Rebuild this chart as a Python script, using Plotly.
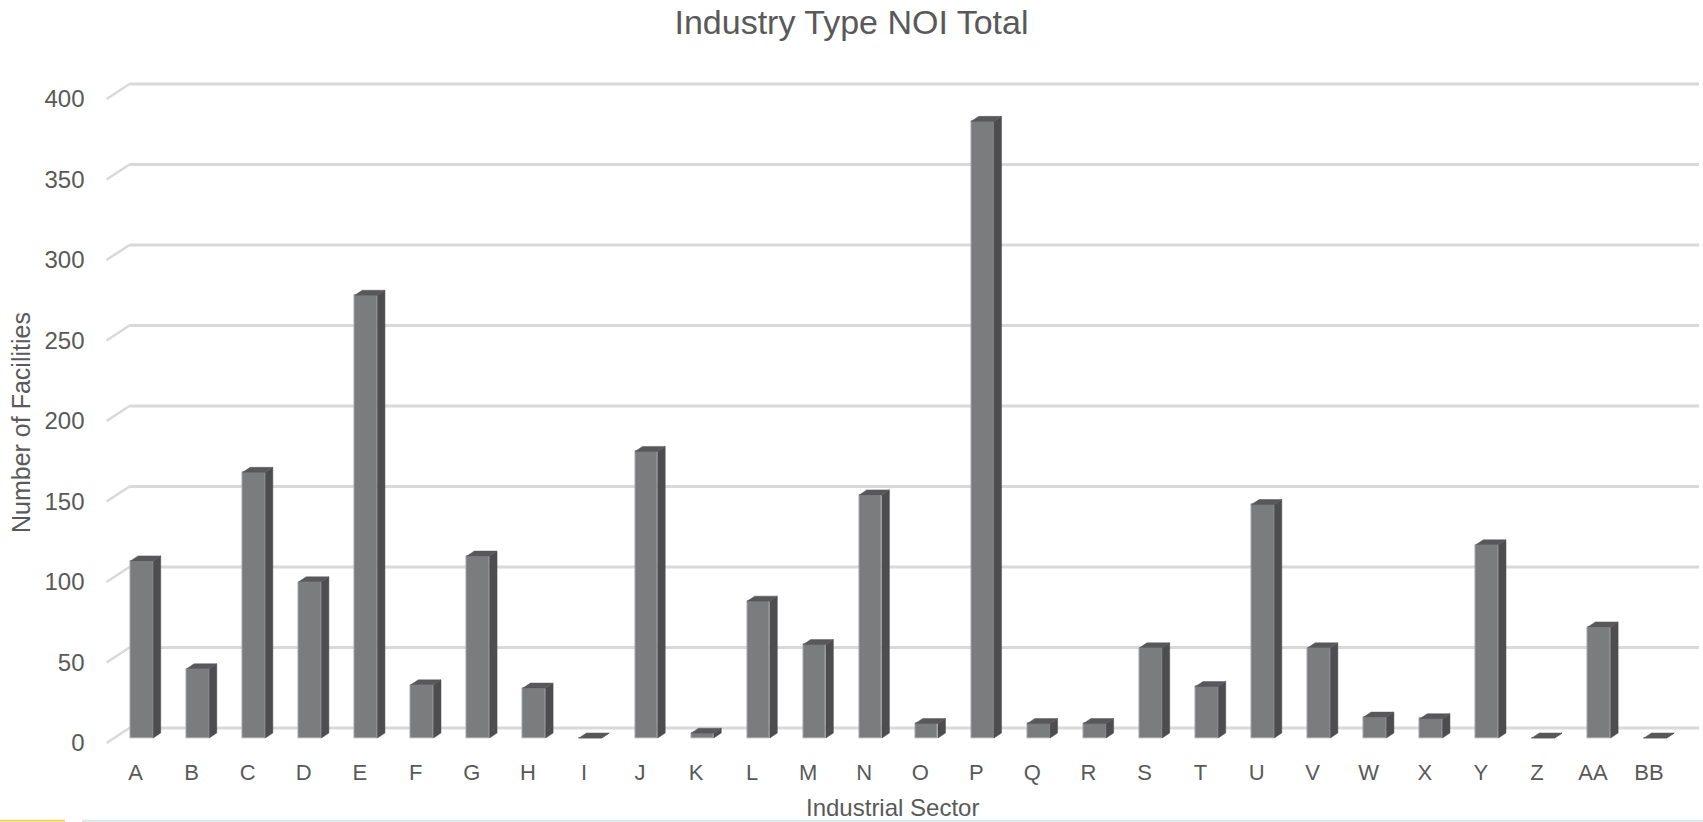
import plotly.graph_objects as go

# ---------------- data ----------------
categories = ["A", "B", "C", "D", "E", "F", "G", "H", "I", "J", "K", "L", "M", "N",
              "O", "P", "Q", "R", "S", "T", "U", "V", "W", "X", "Y", "Z", "AA", "BB"]
facilities = [110, 43, 165, 97, 275, 33, 113, 31, 0, 178, 3, 85, 58, 151,
              9, 383, 9, 9, 56, 32, 145, 56, 13, 12, 120, 0, 69, 0]
y_ticks = [0, 50, 100, 150, 200, 250, 300, 350, 400]

# ---------------- geometry (pixels) ----------------
W, H = 1703, 822
FRONT_LEFT, FRONT_RIGHT = 107.5, 1677.0
ZERO_PX = 738.0           # bar-front baseline
PX_PER_UNIT = 1.61
Y_LO, Y_HI = -6, 416      # a little room so the wall lines are not clipped
DEPTH_DX, BACK_DY, FLOOR_FRONT_DY = 22, 10, 5
BAR_DX, BAR_DY = 7.5, 5.0
BAR_OFF_PX, BAR_W_PX = -5.0, 22.7

n = len(categories)
px_per_cat = (FRONT_RIGHT - FRONT_LEFT) / n
xdom = [FRONT_LEFT / W, FRONT_RIGHT / W]
bottom_px = ZERO_PX - Y_LO * PX_PER_UNIT
top_px = ZERO_PX - Y_HI * PX_PER_UNIT
ydom = [(H - bottom_px) / H, (H - top_px) / H]

FRONT_C = "#7b7c7e"
SIDE_C = "#4d4d4f"
TOP_C = "#58585a"
GRID_C = "#d9d9d9"
TEXT_C = "#595959"
FONT = "Liberation Sans, Arial, sans-serif"

idx = list(range(n))
off = BAR_OFF_PX / px_per_cat
wid = BAR_W_PX / px_per_cat
dxu = BAR_DX / px_per_cat
dyu = BAR_DY / PX_PER_UNIT

fig = go.Figure()
fig.add_trace(go.Bar(
    x=idx, y=facilities, width=wid, offset=off,
    marker=dict(color=FRONT_C, line=dict(color="#a2a2a2", width=1)),
    hoverinfo="skip", showlegend=False))

side_x, side_y, top_x, top_y = [], [], [], []
for i, v in zip(idx, facilities):
    xl = i + off
    xr = xl + wid
    side_x += [xr, xr + dxu, xr + dxu, xr, xr, None]
    side_y += [0, dyu, v + dyu, v, 0, None]
    top_x += [xl, xr, xr + dxu, xl + dxu, xl, None]
    top_y += [v, v, v + dyu, v + dyu, v, None]

fig.add_trace(go.Scatter(x=side_x, y=side_y, mode="lines", fill="toself",
                         fillcolor=SIDE_C, line=dict(color=SIDE_C, width=0.5),
                         hoverinfo="skip", showlegend=False))
fig.add_trace(go.Scatter(x=top_x, y=top_y, mode="lines", fill="toself",
                         fillcolor=TOP_C, line=dict(color=TOP_C, width=0.5),
                         hoverinfo="skip", showlegend=False))

shapes = []
for t in y_ticks:
    # back-wall gridline
    shapes.append(dict(type="line", layer="below", xref="paper",
                       x0=(FRONT_LEFT + DEPTH_DX) / W, x1=min(1.0, (FRONT_RIGHT + DEPTH_DX) / W),
                       yref="y", ysizemode="pixel", yanchor=t, y0=BACK_DY, y1=BACK_DY,
                       line=dict(color=GRID_C, width=3)))
    # side-wall diagonal
    shapes.append(dict(type="line", layer="below", xref="paper", xsizemode="pixel",
                       xanchor=FRONT_LEFT / W, x0=-1, x1=DEPTH_DX,
                       yref="y", ysizemode="pixel", yanchor=t,
                       y0=-FLOOR_FRONT_DY, y1=BACK_DY,
                       line=dict(color=GRID_C, width=2.5)))
# thin strip at the bottom of the page
shapes.append(dict(type="line", xref="paper", yref="paper", x0=0, x1=65 / W,
                   y0=1.2 / H, y1=1.2 / H, line=dict(color="#f3d55b", width=2)))
shapes.append(dict(type="line", xref="paper", yref="paper", x0=82 / W, x1=1,
                   y0=1.2 / H, y1=1.2 / H, line=dict(color="#d8e7ea", width=2)))

fig.update_layout(
    width=W, height=H, autosize=False,
    margin=dict(l=0, r=0, t=0, b=0, pad=0, autoexpand=False),
    paper_bgcolor="white", plot_bgcolor="rgba(0,0,0,0)",
    font=dict(family=FONT, color=TEXT_C),
    bargap=0,
    title=dict(text="Industry Type NOI Total", x=0.5, xanchor="center",
               xref="paper", yref="paper", y=1 - 22 / H, yanchor="middle",
               font=dict(size=34, color=TEXT_C, family=FONT)),
    xaxis=dict(domain=xdom, range=[-0.5, n - 0.5], tickmode="array",
               tickvals=idx, ticktext=categories, showgrid=False, zeroline=False,
               showline=False, ticks="", ticklabelstandoff=9, automargin=False,
               tickfont=dict(size=22, color=TEXT_C), fixedrange=True),
    yaxis=dict(domain=ydom, range=[Y_LO, Y_HI], tickmode="array", tickvals=y_ticks,
               showgrid=False, zeroline=False, showline=False, ticks="",
               ticklabelshift=FLOOR_FRONT_DY, ticklabelstandoff=22, automargin=False,
               tickfont=dict(size=24, color=TEXT_C), fixedrange=True),
    shapes=shapes,
    annotations=[
        dict(text="Industrial Sector", xref="paper", yref="paper",
             x=(FRONT_LEFT + FRONT_RIGHT) / 2 / W, y=1 - 807 / H,
             xanchor="center", yanchor="middle", showarrow=False,
             font=dict(size=24, color=TEXT_C, family=FONT)),
        dict(text="Number of Facilities", xref="paper", yref="paper",
             x=21 / W, y=1 - 423 / H, textangle=-90,
             xanchor="center", yanchor="middle", showarrow=False,
             font=dict(size=25, color=TEXT_C, family=FONT)),
    ],
)

fig.write_html("out.html", config={"displayModeBar": False},
               post_script="document.body.style.margin='0';document.body.style.overflow='hidden';")
